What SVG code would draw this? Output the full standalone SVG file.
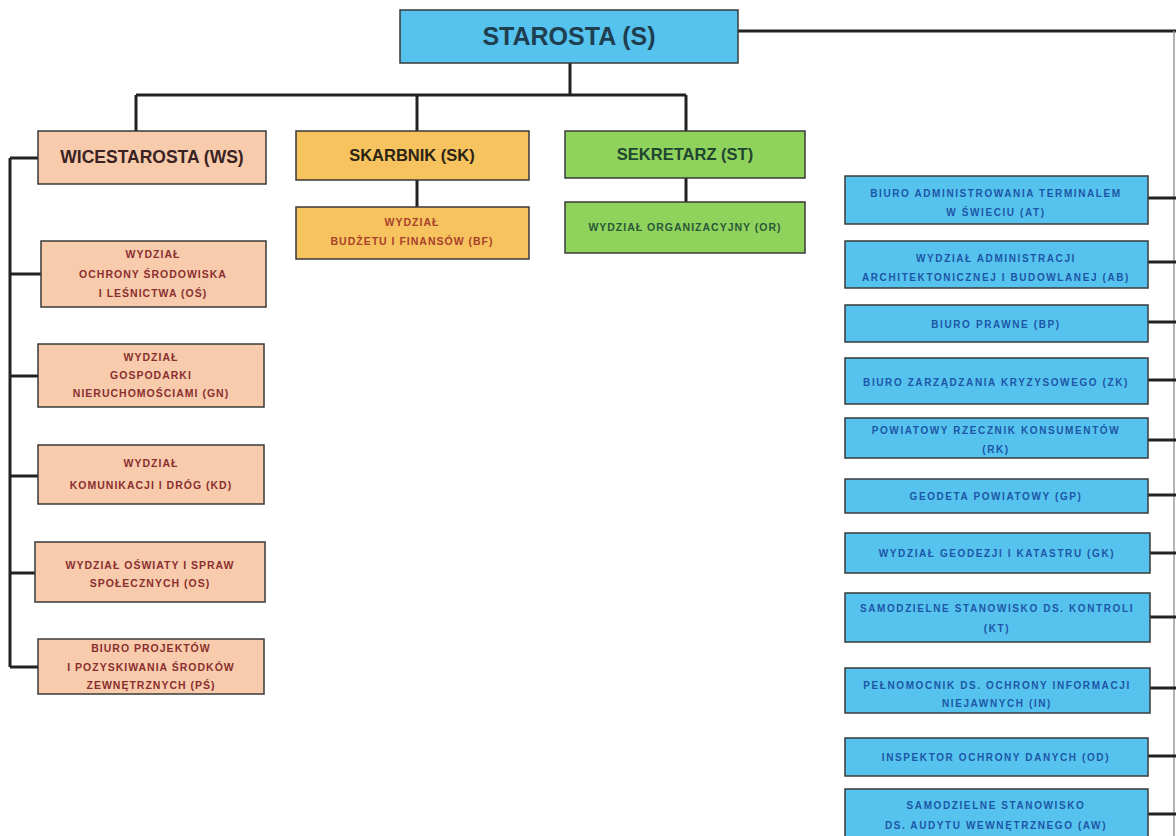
<svg xmlns="http://www.w3.org/2000/svg" width="1176" height="836" viewBox="0 0 1176 836" xml:space="preserve">
<style>
.box{stroke:#3a3a3a;stroke-width:1.5}
.blue{fill:#55c3ee}
.peach{fill:#f8cbac}
.orange{fill:#f6c35e}
.green{fill:#8fd25c}
.con{fill:none;stroke:#222;stroke-width:3}
text{font-family:"Liberation Sans",Arial,sans-serif;font-weight:bold;text-anchor:middle}
.hd{font-size:16.5px}
.sm{font-size:10.5px;letter-spacing:1px}
.bt{fill:#1d56a6;font-size:10px;letter-spacing:1.6px}
.rt{fill:#8a2f2f}
</style>
<rect width="1176" height="836" fill="#ffffff"/>
<g id="connectors">
<path class="con" d="M738 31H1176"/>
<path d="M1174 31V836" stroke="#9a9a9a" stroke-width="1.5" fill="none"/>
<path class="con" d="M570 63V95M136 95H686M136 95V131M417 95V131M686 95V131"/>
<path class="con" d="M417 180V207M686 178V202"/>
<path class="con" d="M10 158V667M10 158H38M10 274H41M10 376H38M10 476H38M10 573H35M10 667H38"/>
<path class="con" d="M1148 198H1176M1148 262H1176M1148 322H1176M1148 380H1176M1148 440H1176M1148 495H1176M1150 553H1176M1150 617H1176M1150 688H1176M1148 756H1176M1148 814H1176"/>
</g>
<g id="starosta">
<rect class="box blue" x="400" y="10" width="338" height="53" fill="#5ec8f0"/>
<text x="569" y="45" font-size="25" fill="#1f3e50">STAROSTA (S)</text>
</g>
<g id="ws">
<rect class="box peach" x="38" y="131" width="228" height="53"/>
<text x="152" y="163" font-size="17.5" fill="#3a2222">WICESTAROSTA (WS)</text>
</g>
<g id="sk">
<rect class="box orange" x="296" y="131" width="233" height="49"/>
<text class="hd" x="412" y="161" fill="#2b2414">SKARBNIK (SK)</text>
</g>
<g id="st">
<rect class="box green" x="565" y="131" width="240" height="47"/>
<text class="hd" x="685" y="160" fill="#1f4630">SEKRETARZ (ST)</text>
</g>
<g id="bf">
<rect class="box orange" x="296" y="207" width="233" height="52"/>
<text class="sm" x="412" y="226" fill="#a8402c">WYDZIAŁ</text>
<text class="sm" x="412" y="245" fill="#a8402c">BUDŻETU  I FINANSÓW (BF)</text>
</g>
<g id="or">
<rect class="box green" x="565" y="202" width="240" height="51"/>
<text class="sm" x="685" y="231" fill="#2a5838">WYDZIAŁ  ORGANIZACYJNY  (OR)</text>
</g>
<g id="os-env">
<rect class="box peach" x="41" y="241" width="225" height="66"/>
<text class="sm rt" x="153" y="258">WYDZIAŁ</text>
<text class="sm rt" x="153" y="278">OCHRONY ŚRODOWISKA</text>
<text class="sm rt" x="153" y="297">I LEŚNICTWA  (OŚ)</text>
</g>
<g id="gn">
<rect class="box peach" x="38" y="344" width="226" height="63"/>
<text class="sm rt" x="151" y="361">WYDZIAŁ</text>
<text class="sm rt" x="151" y="379">GOSPODARKI</text>
<text class="sm rt" x="151" y="397">NIERUCHOMOŚCIAMI  (GN)</text>
</g>
<g id="kd">
<rect class="box peach" x="38" y="445" width="226" height="59"/>
<text class="sm rt" x="151" y="467">WYDZIAŁ</text>
<text class="sm rt" x="151" y="489">KOMUNIKACJI I DRÓG (KD)</text>
</g>
<g id="os">
<rect class="box peach" x="35" y="542" width="230" height="60"/>
<text class="sm rt" x="150" y="569">WYDZIAŁ OŚWIATY I SPRAW</text>
<text class="sm rt" x="150" y="587">SPOŁECZNYCH (OS)</text>
</g>
<g id="ps">
<rect class="box peach" x="38" y="639" width="226" height="55"/>
<text class="sm rt" x="151" y="652">BIURO PROJEKTÓW</text>
<text class="sm rt" x="151" y="671">I POZYSKIWANIA  ŚRODKÓW</text>
<text class="sm rt" x="151" y="689">ZEWNĘTRZNYCH  (PŚ)</text>
</g>
<g id="at">
<rect class="box blue" x="845" y="176" width="303" height="48"/>
<text class="bt" x="996" y="197">BIURO ADMINISTROWANIA  TERMINALEM</text>
<text class="bt" x="996" y="216">W ŚWIECIU  (AT)</text>
</g>
<g id="ab">
<rect class="box blue" x="845" y="241" width="303" height="47"/>
<text class="bt" x="996" y="262">WYDZIAŁ ADMINISTRACJI</text>
<text class="bt" x="996" y="281">ARCHITEKTONICZNEJ  I BUDOWLANEJ  (AB)</text>
</g>
<g id="bp">
<rect class="box blue" x="845" y="305" width="303" height="37"/>
<text class="bt" x="996" y="328">BIURO  PRAWNE  (BP)</text>
</g>
<g id="zk">
<rect class="box blue" x="845" y="358" width="303" height="46"/>
<text class="bt" x="996" y="386">BIURO  ZARZĄDZANIA  KRYZYSOWEGO  (ZK)</text>
</g>
<g id="rk">
<rect class="box blue" x="845" y="418" width="303" height="40"/>
<text class="bt" x="996" y="434">POWIATOWY  RZECZNIK  KONSUMENTÓW</text>
<text class="bt" x="996" y="453">(RK)</text>
</g>
<g id="gp">
<rect class="box blue" x="845" y="479" width="303" height="34"/>
<text class="bt" x="996" y="500">GEODETA  POWIATOWY  (GP)</text>
</g>
<g id="gk">
<rect class="box blue" x="845" y="533" width="305" height="40"/>
<text class="bt" x="997" y="557">WYDZIAŁ  GEODEZJI  I KATASTRU  (GK)</text>
</g>
<g id="kt">
<rect class="box blue" x="845" y="593" width="305" height="49"/>
<text class="bt" x="997" y="612">SAMODZIELNE  STANOWISKO  DS. KONTROLI</text>
<text class="bt" x="997" y="632">(KT)</text>
</g>
<g id="in">
<rect class="box blue" x="845" y="668" width="305" height="45"/>
<text class="bt" x="997" y="689">PEŁNOMOCNIK  DS. OCHRONY INFORMACJI</text>
<text class="bt" x="997" y="707">NIEJAWNYCH  (IN)</text>
</g>
<g id="od">
<rect class="box blue" x="845" y="738" width="303" height="38"/>
<text class="bt" x="996" y="761">INSPEKTOR  OCHRONY DANYCH (OD)</text>
</g>
<g id="aw">
<rect class="box blue" x="845" y="789" width="303" height="50"/>
<text class="bt" x="996" y="809">SAMODZIELNE  STANOWISKO</text>
<text class="bt" x="996" y="829">DS. AUDYTU  WEWNĘTRZNEGO  (AW)</text>
</g>
</svg>
